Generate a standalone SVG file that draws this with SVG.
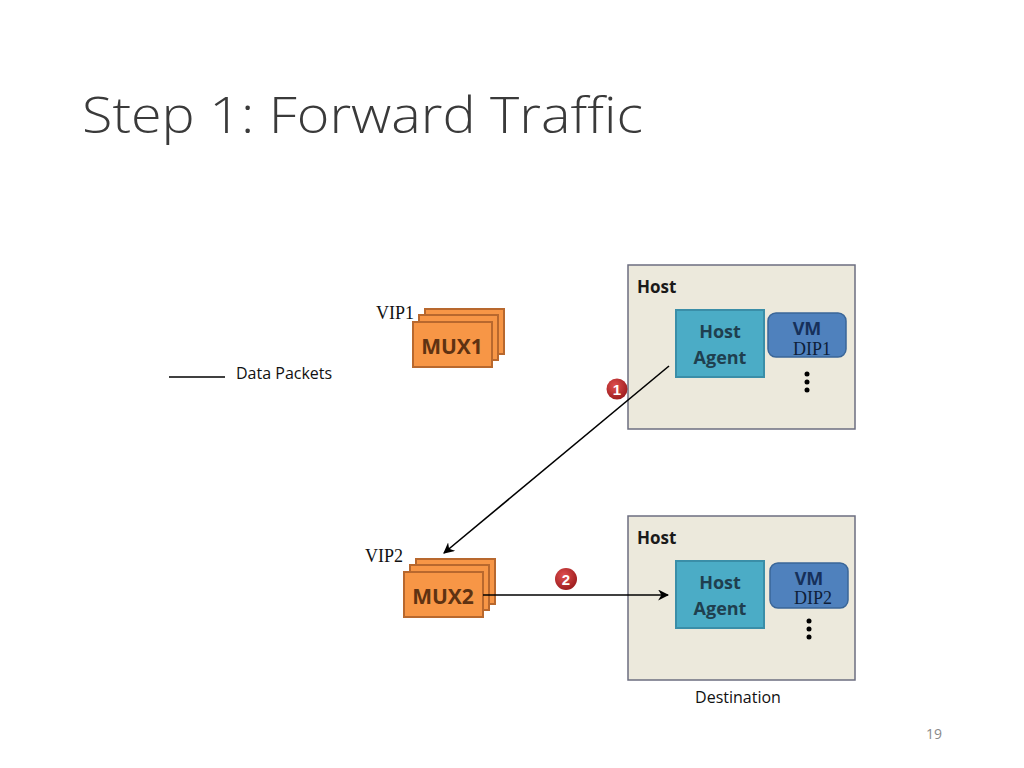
<svg xmlns="http://www.w3.org/2000/svg" width="1024" height="768" viewBox="0 0 1024 768">
<style>
.title{font-family:"Open Sans","Liberation Sans",sans-serif;font-weight:300;font-size:50px;fill:#3a3a3a}
.sans{font-family:"Open Sans","Liberation Sans",sans-serif;font-size:16px;fill:#111}
.serif{font-family:"Liberation Serif",serif;font-size:18px;fill:#111}
.host{fill:#ece9dc;stroke:#6c6e80;stroke-width:1.5}
.hlabel{font-family:"Open Sans","Liberation Sans",sans-serif;font-weight:bold;font-size:17px;fill:#1a1a1a}
.agent{fill:#4bacc6;stroke:#3a8ea8;stroke-width:2}
.agtxt{font-family:"Open Sans","Liberation Sans",sans-serif;font-weight:bold;font-size:18px;fill:#1f3f4f;text-anchor:middle}
.vm{fill:#4f81bd;stroke:#3a6698;stroke-width:1.5}
.vmtxt{font-family:"Open Sans","Liberation Sans",sans-serif;font-weight:bold;font-size:18px;fill:#16305a;text-anchor:middle}
.dip{font-family:"Liberation Serif",serif;font-size:18px;fill:#0e1e38;text-anchor:middle}
.mux{fill:#f79646;stroke:#b8682e;stroke-width:2}
.muxtxt{font-family:"Open Sans","Liberation Sans",sans-serif;font-weight:bold;font-size:21px;fill:#5e3212;text-anchor:middle}
.conn{stroke:#000;stroke-width:1.6;fill:none}
.btxt{font-family:"Liberation Sans",sans-serif;font-weight:bold;font-size:15px;fill:#fff;text-anchor:middle}
</style>
<defs>
<marker id="ah" viewBox="0 0 10 10" refX="9" refY="5" markerWidth="11" markerHeight="11" markerUnits="userSpaceOnUse" orient="auto">
<path d="M0,0 L10,5 L0,10 L3,5 Z" fill="#000"/>
</marker>
<radialGradient id="bg" cx="0.4" cy="0.35" r="0.7">
<stop offset="0" stop-color="#e0504f"/>
<stop offset="1" stop-color="#9a1a1c"/>
</radialGradient>
</defs>
<rect width="1024" height="768" fill="#fff"/>
<text class="title" x="82" y="133" textLength="561" lengthAdjust="spacingAndGlyphs">Step 1: Forward Traffic</text>

<g id="legend">
<line x1="169" y1="377" x2="225" y2="377" stroke="#000" stroke-width="1.6"/>
<text class="sans" x="236" y="379">Data Packets</text>
</g>

<g id="host1">
<rect class="host" x="628" y="265" width="227" height="164"/>
<text class="hlabel" x="637" y="293">Host</text>
</g>
<g id="agent1">
<rect class="agent" x="676" y="310" width="88" height="67"/>
<text class="agtxt" x="720" y="338">Host</text>
<text class="agtxt" x="720" y="364">Agent</text>
</g>
<g id="vm1">
<rect class="vm" x="768" y="313" width="78" height="44" rx="8"/>
<text class="vmtxt" x="807" y="335">VM</text>
<text class="dip" x="812" y="355">DIP1</text>
<circle cx="807" cy="374" r="2.5" fill="#000"/><circle cx="807" cy="382" r="2.5" fill="#000"/><circle cx="807" cy="390" r="2.5" fill="#000"/>
</g>

<g id="host2">
<rect class="host" x="628" y="516" width="227" height="164"/>
<text class="hlabel" x="637" y="544">Host</text>
<text class="sans" x="738" y="703" text-anchor="middle">Destination</text>
</g>
<g id="agent2">
<rect class="agent" x="676" y="561" width="88" height="67"/>
<text class="agtxt" x="720" y="589">Host</text>
<text class="agtxt" x="720" y="615">Agent</text>
</g>
<g id="vm2">
<rect class="vm" x="770" y="563" width="78" height="45" rx="8"/>
<text class="vmtxt" x="809" y="585">VM</text>
<text class="dip" x="813" y="604">DIP2</text>
<circle cx="809" cy="621" r="2.5" fill="#000"/><circle cx="809" cy="629" r="2.5" fill="#000"/><circle cx="809" cy="637" r="2.5" fill="#000"/>
</g>

<g id="mux1">
<text class="serif" x="376" y="319">VIP1</text>
<rect class="mux" x="425" y="309" width="79" height="45"/>
<rect class="mux" x="419" y="315" width="79" height="45"/>
<rect class="mux" x="413" y="322" width="79" height="45"/>
<text class="muxtxt" x="452" y="354">MUX1</text>
</g>

<g id="mux2">
<text class="serif" x="365" y="562">VIP2</text>
<rect class="mux" x="416" y="559" width="79" height="45"/>
<rect class="mux" x="410" y="565" width="79" height="45"/>
<rect class="mux" x="404" y="572" width="79" height="45"/>
<text class="muxtxt" x="443" y="604">MUX2</text>
</g>

<g id="connectors">
<line class="conn" x1="669" y1="366" x2="444" y2="553" marker-end="url(#ah)"/>
<line class="conn" x1="483" y1="595" x2="668" y2="595" marker-end="url(#ah)"/>
<circle cx="617" cy="389" r="10.5" fill="url(#bg)"/>
<text class="btxt" x="617" y="394.5">1</text>
<circle cx="566" cy="579" r="11" fill="url(#bg)"/>
<text class="btxt" x="566" y="584.5">2</text>
</g>

<text x="934" y="739" font-family="Open Sans, Liberation Sans, sans-serif" font-size="14" fill="#8a8a8a" text-anchor="middle">19</text>
</svg>
